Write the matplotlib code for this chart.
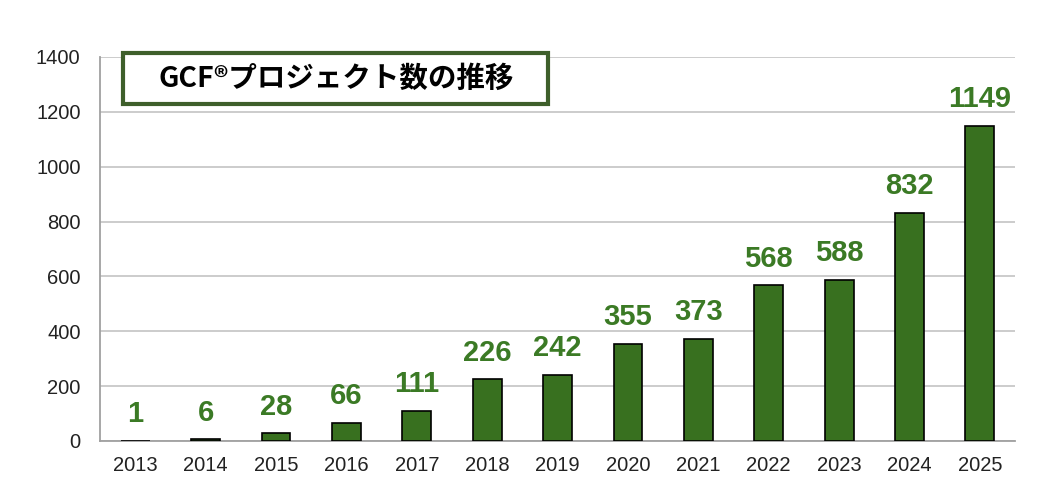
import matplotlib
matplotlib.use("Agg")
import matplotlib.pyplot as plt
from matplotlib.patches import Rectangle

years = ["2013", "2014", "2015", "2016", "2017", "2018", "2019",
         "2020", "2021", "2022", "2023", "2024", "2025"]
projects = [1, 6, 28, 66, 111, 226, 242, 355, 373, 568, 588, 832, 1149]
yticks = [0, 200, 400, 600, 800, 1000, 1200, 1400]
title = "GCF®プロジェクト数の推移"

bar_color = "#38701f"
label_color = "#3b7a25"

fig = plt.figure(figsize=(10.53, 5.04), dpi=100)
ax = fig.add_axes([0.095, 0.125, 0.869, 0.762])

x = list(range(len(years)))
ax.bar(x, projects, width=0.41, color=bar_color, edgecolor="black", linewidth=1.2, zorder=3)

for xi, v in zip(x, projects):
    ax.annotate(str(v), (xi, v), xytext=(0, 9), textcoords="offset points",
                ha="center", va="bottom", fontsize=21, fontweight="bold",
                color=label_color, family="Liberation Sans")

ax.set_xlim(-0.5, len(years) - 0.5)
ax.set_ylim(0, 1400)
ax.set_yticks(yticks)
ax.set_xticks(x)
ax.set_xticklabels(years)
ax.grid(axis="y", color="#c8c8c8", linewidth=1.3, zorder=0)
ax.tick_params(length=0, labelsize=14.5)
for lbl in ax.get_xticklabels() + ax.get_yticklabels():
    lbl.set_family("Liberation Sans")
    lbl.set_color("#222222")
ax.tick_params(axis="x", pad=11)
ax.tick_params(axis="y", pad=14)
for s in ["top", "right"]:
    ax.spines[s].set_visible(False)
for s in ["left", "bottom"]:
    ax.spines[s].set_color("#a0a0a0")
    ax.spines[s].set_linewidth(1.3)

# title box
fig.patches.append(Rectangle((123 / 1053, 1 - 104 / 504), 425 / 1053, 51 / 504,
                             transform=fig.transFigure, facecolor="white",
                             edgecolor="#3e5f2b", linewidth=3, zorder=5))
fig.text(336 / 1053, 1 - 79 / 504, title, ha="center", va="center",
         fontsize=20.5, fontweight="bold", color="black", zorder=6,
         family=["Noto Sans CJK JP", "DejaVu Sans"])

fig.savefig("out.png", dpi=100)
